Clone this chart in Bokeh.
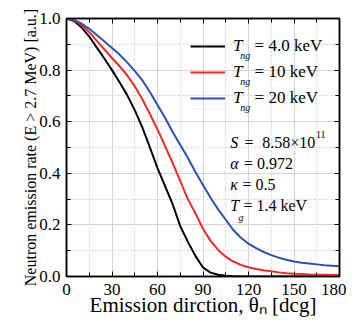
from bokeh.plotting import figure
from bokeh.models import (LinearAxis, SingleIntervalTicker, Legend, LegendItem,
                          Label, Range1d, PrintfTickFormatter, CustomLabelingPolicy)
from bokeh.embed import file_html
from bokeh.resources import INLINE

# ---------------- data ----------------
theta = [0, 5, 10, 15, 20, 25, 30, 35, 40, 45, 50, 55, 60, 65, 70, 75, 80, 85, 90,
         95, 100, 105, 110, 115, 120, 125, 130, 135, 140, 145, 150, 155, 160, 165,
         170, 175, 180]
rate_4keV = [1.0, 0.99, 0.965, 0.93, 0.887, 0.845, 0.80, 0.753, 0.703, 0.645, 0.578,
             0.50, 0.42, 0.35, 0.28, 0.195, 0.135, 0.08, 0.035, 0.015, 0.007, 0.003,
             0.001, 0.0, 0.0, 0.0, 0.0, 0.0, 0.0, 0.0, 0.0, 0.0, 0.0, 0.0, 0.0, 0.0, 0.0]
rate_10keV = [1.0, 0.993, 0.975, 0.947, 0.913, 0.88, 0.847, 0.815, 0.78, 0.737, 0.687,
              0.63, 0.57, 0.505, 0.44, 0.37, 0.30, 0.245, 0.185, 0.138, 0.103, 0.077,
              0.058, 0.045, 0.036, 0.029, 0.024, 0.02, 0.016, 0.013, 0.011, 0.01,
              0.008, 0.007, 0.007, 0.006, 0.006]
rate_20keV = [1.0, 0.995, 0.98, 0.96, 0.936, 0.911, 0.886, 0.86, 0.83, 0.797, 0.76,
              0.715, 0.665, 0.615, 0.56, 0.51, 0.46, 0.405, 0.355, 0.305, 0.26, 0.22,
              0.18, 0.15, 0.127, 0.11, 0.095, 0.083, 0.073, 0.065, 0.058, 0.053, 0.05,
              0.047, 0.044, 0.042, 0.04]
series_values = ["= 4.0 keV", "= 10 keV", "= 20 keV"]
series_colors = ["#000000", "#ee2b2b", "#2c52b0"]

FONT = "Liberation Serif"

p = figure(width=346, height=319, output_backend="svg", toolbar_location=None,
           x_range=Range1d(0, 180), y_range=Range1d(0, 1.0),
           min_border_left=66, min_border_right=7, min_border_top=18,
           min_border_bottom=43)
p.background_fill_color = "white"
p.border_fill_color = "white"
p.outline_line_color = "black"
p.outline_line_width = 1.5

xt = SingleIntervalTicker(interval=30, num_minor_ticks=2)
yt = SingleIntervalTicker(interval=0.2, num_minor_ticks=2)

for ax in p.xaxis:
    ax.ticker = xt
for ax in p.yaxis:
    ax.ticker = yt
    ax.formatter = PrintfTickFormatter(format="%.1f")

def style_axis(ax):
    ax.axis_line_color = "black"
    ax.axis_line_width = 1.5
    ax.major_tick_in = 5
    ax.major_tick_out = 0
    ax.minor_tick_in = 4
    ax.minor_tick_out = 0
    ax.major_tick_line_color = "black"
    ax.minor_tick_line_color = "black"
    ax.major_label_text_font = FONT
    ax.major_label_text_font_size = "17px"
    ax.major_label_text_color = "black"
    ax.major_label_text_line_height = 1.0
    ax.axis_label_text_font = FONT
    ax.axis_label_text_font_style = "normal"
    ax.axis_label_text_color = "black"
    ax.axis_label_text_line_height = 1.0

for ax in p.xaxis + p.yaxis:
    style_axis(ax)

p.xaxis.axis_label = "Emission dirction, θₙ [dcg]"
p.xaxis.axis_label_text_font_size = "21px"
p.xaxis.major_label_standoff = 7
p.xaxis.axis_label_standoff = -5
p.yaxis.axis_label = "Neutron emission rate (E > 2.7 MeV) [a.u.]"
p.yaxis.axis_label_text_font_size = "16px"
p.yaxis.major_label_standoff = 6
p.yaxis.axis_label_standoff = -3

hide_all = CustomLabelingPolicy(code="""
try {
  const ids = [...indices.ones()]
  for (const i of ids) indices.unset(i)
} catch (e) {}
return indices
""")

top = LinearAxis(ticker=xt)
right = LinearAxis(ticker=yt)
for ax in (top, right):
    style_axis(ax)
    ax.major_label_text_font_size = "0px"
    ax.major_label_standoff = 0
    ax.major_label_policy = hide_all
p.add_layout(top, "above")
p.add_layout(right, "right")

for g, tk in ((p.xgrid, xt), (p.ygrid, yt)):
    g.ticker = tk
    g.grid_line_color = "#d4d4d4"
    g.grid_line_width = 1
    g.minor_grid_line_color = "#d4d4d4"
    g.minor_grid_line_dash = "2 2"

renderers = []
for vals, col in zip([rate_4keV, rate_10keV, rate_20keV], series_colors):
    r = p.line(theta, vals, line_color=col, line_width=2)
    renderers.append(r)

legend = Legend(items=[LegendItem(label="T", renderers=[r]) for r in renderers],
                location=(124, 168), orientation="vertical",
                glyph_width=35, glyph_height=20, label_height=20, spacing=6,
                padding=0, margin=0, label_standoff=8,
                border_line_alpha=0, background_fill_alpha=0,
                label_text_font=FONT, label_text_font_style="italic",
                label_text_font_size="17px", label_text_color="black")
p.add_layout(legend)

row_y = [0.897, 0.796, 0.695]
for txt, yv in zip(series_values, row_y):
    p.add_layout(Label(x=124, y=yv, text=txt, text_font=FONT, text_font_size="17px",
                       text_baseline="middle", text_align="left", text_color="black"))
    p.add_layout(Label(x=114.5, y=yv - 0.04, text="ng", text_font=FONT,
                       text_font_style="italic", text_font_size="10px",
                       text_baseline="middle", text_align="left", text_color="black"))

def lab(x, y, t, size="16px", style="normal"):
    p.add_layout(Label(x=x, y=y, text=t, text_font=FONT, text_font_size=size,
                       text_font_style=style, text_baseline="middle",
                       text_align="left", text_color="black"))

lab(108, 0.52, "S", style="italic")
lab(117.3, 0.52, "=")
lab(129, 0.52, "8.58×10")
lab(164.5, 0.55, "11", size="10px")
lab(108, 0.438, "α", style="italic")
lab(117, 0.438, "= 0.972")
lab(108, 0.357, "κ", style="italic")
lab(116, 0.357, "= 0.5")
lab(108, 0.275, "T", style="italic")
lab(113.4, 0.23, "g", size="10px", style="italic")
lab(116.7, 0.275, "= 1.4 keV")

open("out.html", "w").write(file_html(p, INLINE))
